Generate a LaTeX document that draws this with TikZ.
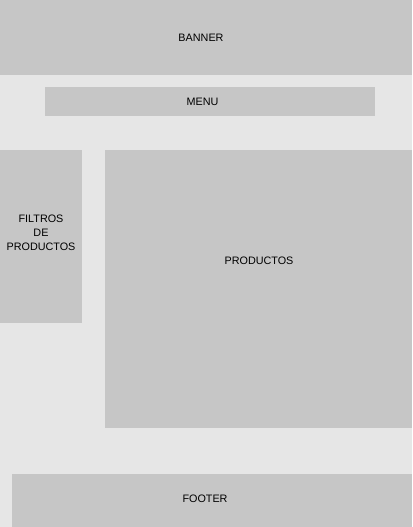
\documentclass[tikz,border=0pt]{standalone}
\usepackage{fontspec}
\setmainfont{Liberation Sans}
\definecolor{bgc}{HTML}{E6E6E6}
\definecolor{boxc}{HTML}{C6C6C6}
\begin{document}
\begin{tikzpicture}[x=1pt,y=-1pt,
  blk/.style={fill=boxc,draw=none},
  lbl/.style={font=\fontsize{10.8}{14}\selectfont,text=black,align=center,inner sep=0pt}]
\fill[bgc] (0,0) rectangle (412,527);
\useasboundingbox (0,0) rectangle (412,527);
\fill[blk] (0,0) rectangle (412,75);
\fill[blk] (45,87) rectangle (375,116);
\fill[blk] (0,150) rectangle (82,323);
\fill[blk] (105,150) rectangle (412,428);
\fill[blk] (12,474) rectangle (412,527);
\node[lbl] (banner) at (201,37.5) {BANNER};
\node[lbl] (menu) at (202.5,101.5) {MENU};
\node[lbl] (filtros) at (41,233) {FILTROS\\DE\\PRODUCTOS};
\node[lbl] (productos) at (259,260.5) {PRODUCTOS};
\node[lbl] (footer) at (205,498.5) {FOOTER};
\end{tikzpicture}
\end{document}
